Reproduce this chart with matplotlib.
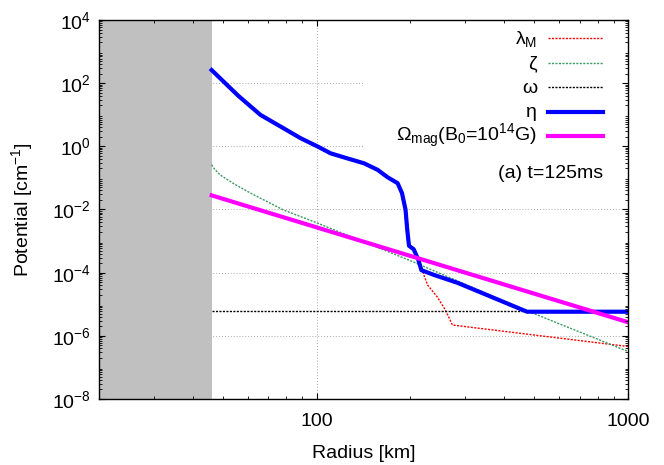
import matplotlib
matplotlib.use("Agg")
import matplotlib.pyplot as plt
from matplotlib.ticker import LogLocator, NullFormatter
from matplotlib.patches import Rectangle

plt.rcParams['font.family'] = ['Liberation Sans', 'DejaVu Sans']
plt.rcParams['mathtext.fontset'] = 'custom'
plt.rcParams['mathtext.rm'] = 'Liberation Sans'
plt.rcParams['mathtext.it'] = 'Liberation Sans:italic'

# ---- data ----
core_edge = 46.0
x_min, x_max = 20.0, 1000.0
y_min, y_max = 1e-8, 1e4

eta_r = [46, 56, 66, 76.7, 88.9, 100.5, 110.9, 125, 142, 157, 169, 182, 188, 193, 195.5,
         198, 205, 212, 217, 238, 283, 474, 1000]
eta_v = [260, 40, 9.9, 4.2, 1.8, 1.0, 0.6, 0.42, 0.29, 0.18, 0.105, 0.068, 0.033, 0.0098,
         2.2e-3, 7.1e-4, 5.5e-4, 2.6e-4, 1.2e-4, 8.5e-5, 4.8e-5, 5.8e-6, 5.8e-6]

lam_r = [205, 212, 215, 227, 244, 259, 273, 1000]
lam_v = [5.5e-4, 2.6e-4, 1.8e-4, 4.1e-5, 1.7e-5, 6.6e-6, 2.2e-6, 4.6e-7]

zeta_r = [46, 47, 49, 54, 61, 78, 100, 200, 474, 1000]
zeta_v = [0.26, 0.19, 0.124, 0.067, 0.034, 0.0098, 0.0038, 2.4e-4, 6.2e-6, 3.2e-7]

omega_r = [46, 1000]
omega_v = [5.9e-6, 5.9e-6]

omag_r = [46, 1000]
omag_v = [0.028, 2.7e-6]

ytick_vals = [1e-8, 1e-6, 1e-4, 1e-2, 1e0, 1e2, 1e4]
ytick_labels = ['10$^\\mathregular{-8}$', '10$^\\mathregular{-6}$', '10$^\\mathregular{-4}$',
                '10$^\\mathregular{-2}$', '10$^\\mathregular{0}$', '10$^\\mathregular{2}$',
                '10$^\\mathregular{4}$']
xtick_vals = [100, 1000]
xtick_labels = ['100', '1000']

labels = ['λ$_\\mathregular{M}$', 'ζ', 'ω', 'η',
          'Ω$_\\mathregular{mag}$(B$_\\mathregular{0}$=10$^\\mathregular{14}$G)']

FS = 14
W, H = 664, 465
AX_L, AX_R, AX_T, AX_B = 99, 628, 20, 399

# ---- figure ----
fig = plt.figure(figsize=(W/100, H/100), dpi=100)
ax = fig.add_axes([AX_L/W, 1-AX_B/H, (AX_R-AX_L)/W, (AX_B-AX_T)/H])
ax.set_xscale('log')
ax.set_yscale('log')
ax.set_xlim(x_min, x_max)
ax.set_ylim(y_min, y_max)

def ax_x(px):
    return (px - AX_L) / (AX_R - AX_L)

def ax_y(py):
    return 1 - (py - AX_T) / (AX_B - AX_T)

# grid (under everything)
for yv in ytick_vals[1:-1]:
    ax.axhline(yv, color='#a8a8a8', ls=(0, (1, 2)), lw=0.7, zorder=1)
for xv in xtick_vals[:-1]:
    ax.axvline(xv, color='#a8a8a8', ls=(0, (1, 2)), lw=0.7, zorder=1)

# white key background
ax.add_patch(Rectangle((ax_x(364), ax_y(152)), 1 - ax_x(364), 1 - ax_y(152),
                       transform=ax.transAxes, facecolor='white', edgecolor='none',
                       zorder=1.2))

ax.axvspan(x_min, core_edge, color='#c0c0c0', zorder=1.5, lw=0)

dash = (0, (1.5, 1.0))
styles = [dict(color='#ff0000', lw=1.0, ls=dash),
          dict(color='#3a9a62', lw=1.0, ls=dash),
          dict(color='#000000', lw=1.0, ls=dash),
          dict(color='#0000ff', lw=3.0, ls='-'),
          dict(color='#ff00ff', lw=3.0, ls='-')]

ax.plot(lam_r, lam_v, zorder=3, **styles[0])
ax.plot(zeta_r, zeta_v, zorder=3, **styles[1])
ax.plot(omega_r, omega_v, zorder=3, **styles[2])
ax.plot(eta_r, eta_v, zorder=4, solid_joinstyle='round', **styles[3])
ax.plot(omag_r, omag_v, zorder=5, **styles[4])

# key
row_y = [38.3, 62.7, 87.3, 111.7, 135.7]
for lab, st, ry in zip(labels, styles, row_y):
    ax.plot([ax_x(548), ax_x(603)], [ax_y(ry), ax_y(ry)], transform=ax.transAxes,
            clip_on=False, zorder=7, **st)
    ax.text(ax_x(537), ax_y(ry + 5.5), lab, transform=ax.transAxes, ha='right',
            va='baseline', fontsize=FS, zorder=7)

ax.set_yticks(ytick_vals)
ax.set_yticklabels(ytick_labels)
ax.yaxis.set_minor_locator(LogLocator(base=10, subs=range(2, 10), numticks=100))
ax.yaxis.set_minor_formatter(NullFormatter())
ax.set_xticks(xtick_vals)
ax.set_xticklabels(xtick_labels)
ax.xaxis.set_minor_locator(LogLocator(base=10, subs=range(2, 10), numticks=100))
ax.xaxis.set_minor_formatter(NullFormatter())

ax.tick_params(which='both', direction='in', top=True, right=True, labelsize=FS)
ax.tick_params(which='major', length=4, width=0.8)
ax.tick_params(axis='x', which='major', pad=10)
ax.tick_params(axis='y', which='major', pad=6)
ax.tick_params(which='minor', length=2, width=0.6)
for s in ax.spines.values():
    s.set_linewidth(1.0)
    s.set_zorder(8)
ax.xaxis.set_zorder(8)
ax.yaxis.set_zorder(8)

ax.set_xlabel('Radius [km]', fontsize=FS, labelpad=11)
ax.set_ylabel('Potential [cm$^\\mathregular{-1}$]', fontsize=FS, labelpad=12)

ax.text(ax_x(603), ax_y(173), '(a) t=125ms', transform=ax.transAxes, ha='right',
        va='center', fontsize=FS, zorder=7)

fig.savefig('out.png', dpi=100)
